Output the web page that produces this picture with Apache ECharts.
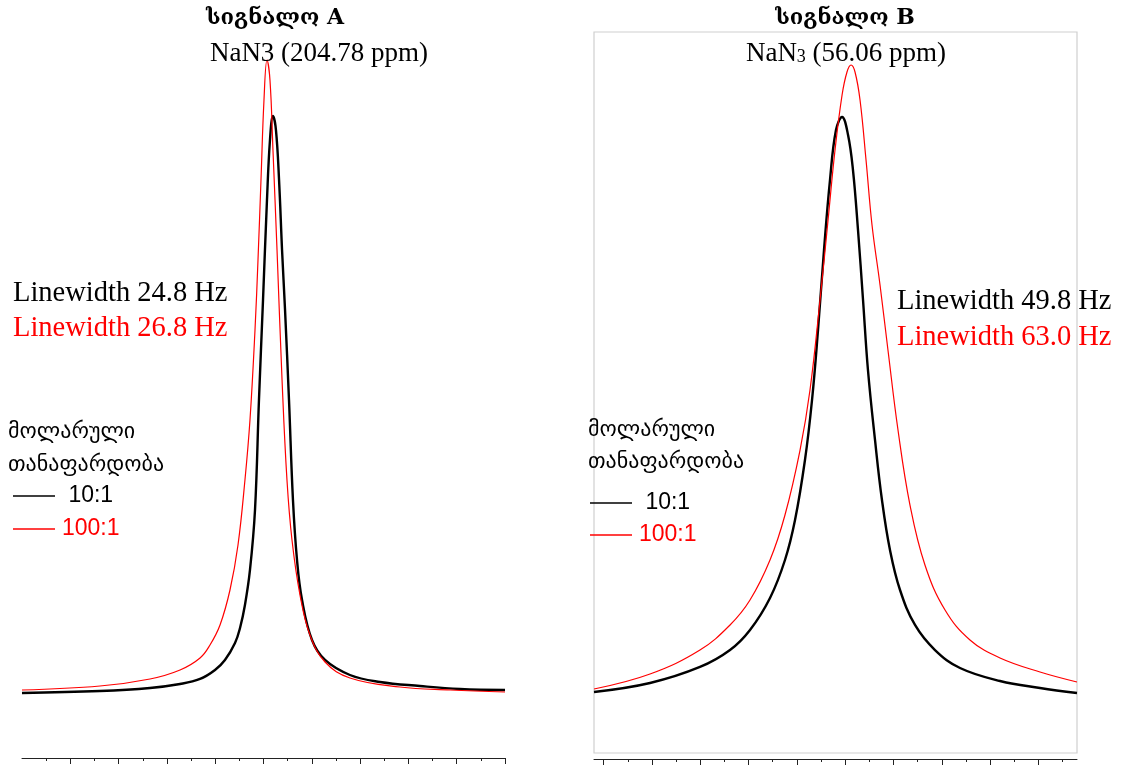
<!DOCTYPE html>
<html>
<head>
<meta charset="utf-8">
<script src="https://cdn.jsdelivr.net/npm/echarts@6/dist/echarts.min.js"></script>
<style>html,body{margin:0;padding:0;background:#fff}#c{width:1121px;height:766px}</style>
</head>
<body>
<div id="c"></div>
<script>
// ---- data (x: chemical shift in ppm, y: relative intensity) ----
const seriesNames = ['10:1', '100:1'];

const aBlackPpm = [230.00,221.93,216.75,213.64,211.57,210.02,208.99,207.95,207.43,206.92,206.40,205.88,205.47,205.05,204.64,204.33,204.02,203.71,203.39,203.08,202.77,202.36,201.95,201.53,201.01,199.98,198.63,196.05,192.94,188.80,184.66,180.00];
const aBlackVal = [0.00,0.35,0.87,1.56,2.43,3.99,5.72,8.67,11.27,15.25,21.32,31.72,50.78,68.11,85.44,95.84,100.0,97.57,88.91,76.78,66.38,50.78,33.45,23.05,16.12,9.19,5.72,3.12,1.91,1.21,0.69,0.52];

const aRedPpm = [230.00,221.93,216.75,213.64,211.57,210.54,209.50,208.47,207.64,206.92,206.40,205.88,205.57,205.26,204.95,204.64,204.33,204.02,203.60,203.08,202.57,202.05,201.22,200.19,198.63,196.05,190.87,185.69,180.00];
const aRedVal = [0.52,1.21,2.43,3.99,6.07,8.32,11.79,17.85,25.65,36.92,47.31,62.91,75.04,88.91,102.77,109.71,106.24,94.11,76.78,54.25,36.92,26.52,16.98,10.05,5.37,2.60,1.04,0.52,0.17];

const bBlackPpm = [81.00,75.20,70.03,66.92,64.85,62.78,61.23,60.19,59.16,58.43,57.81,57.19,56.57,55.95,55.32,54.70,54.19,53.67,53.15,52.64,51.91,51.19,50.36,49.32,47.77,45.70,43.11,38.97,34.83,31.00];
const bBlackVal = [0.17,1.73,4.51,7.45,10.92,16.46,23.05,29.98,40.38,50.78,62.91,76.78,88.91,97.57,99.83,96.71,90.64,80.24,68.11,55.98,43.85,33.45,24.78,17.85,11.79,7.45,4.33,2.08,0.87,0.00];

const bRedPpm = [81.00,75.20,70.03,66.92,64.85,62.78,61.23,59.67,58.64,57.60,56.77,56.05,55.32,54.81,54.39,53.98,53.46,52.84,52.22,51.39,50.57,49.53,48.29,46.74,44.66,42.08,38.97,34.83,31.00];
const bRedVal = [0.69,3.29,7.45,11.79,16.12,23.05,30.85,42.11,52.51,68.11,81.98,94.11,103.64,107.63,108.84,107.63,102.77,92.37,81.11,70.71,59.45,45.58,32.58,22.18,14.38,9.19,6.07,3.64,1.91];

// axis ranges and ticks (ppm)
const aRange = [180, 230];
const bRange = [31, 81];
const aMajorTicks = [180,185,190,195,200,205,210,215,220,225];
const aMinorTicks = [182.5,187.5,192.5,197.5,202.5,207.5,212.5,217.5,222.5,227.5];
const bMajorTicks = [35,40,45,50,55,60,65,70,75,80];
const bMinorTicks = [32.5,37.5,42.5,47.5,52.5,57.5,62.5,67.5,72.5,77.5];

// texts
const titleA = 'სიგნალო A';
const titleB = 'სიგნალო B';
const subA = 'NaN3 (204.78 ppm)';
const legendTitle = ['მოლარული', 'თანაფარდობა'];
const lwA = ['Linewidth 24.8 Hz', 'Linewidth 26.8 Hz'];
const lwB = ['Linewidth 49.8 Hz', 'Linewidth 63.0 Hz'];

// ---- build ----
const zip = (xs, ys) => xs.map((x, i) => [x, ys[i]]);
const BLACK = '#000000', RED = '#ff0000';
const SERIF = '"Liberation Serif","DejaVu Serif",serif';
const SANS = '"Liberation Sans","DejaVu Sans",sans-serif';

function xAxes(gridIndex, range, major, minor, offset) {
  const base = {
    type: 'value', gridIndex, min: range[0], max: range[1], inverse: true,
    position: 'bottom', offset,
    axisLabel: { show: false }, splitLine: { show: false }
  };
  return [
    Object.assign({}, base, {
      axisLine: { show: true, onZero: false, lineStyle: { color: '#222', width: 1 } },
      axisTick: { show: true, customValues: major, length: 6, lineStyle: { color: '#222', width: 1 } }
    }),
    Object.assign({}, base, {
      axisLine: { show: false, onZero: false },
      axisTick: { show: true, customValues: minor, length: 3, lineStyle: { color: '#222', width: 1 } }
    })
  ];
}

const yBase = { type: 'value', min: -10.4, max: 114.56, show: false };

function line(name, xi, yi, data, color, width) {
  return {
    name, type: 'line', xAxisIndex: xi, yAxisIndex: yi, data,
    showSymbol: false, symbol: 'none', smooth: 0.4,
    lineStyle: { color, width }, itemStyle: { color }, z: width > 2 ? 3 : 4,
    animation: false, clip: false
  };
}

function legendFor(left, top, gap) {
  return {
    orient: 'vertical', left, top, icon: 'rect', itemWidth: 42, itemHeight: 1.5,
    itemGap: gap, selectedMode: false, padding: 0,
    formatter: n => n === '10:1' ? ' ' + n : n,
    textStyle: { fontFamily: SANS, fontSize: 23, lineHeight: 26, padding: [0, 0, 0, 2] },
    data: [
      { name: '10:1', textStyle: { color: BLACK } },
      { name: '100:1', textStyle: { color: RED } }
    ]
  };
}

function txt(text, x, y, font, fill, align) {
  return { type: 'text', z: 10, style: { text, x, y, font, fill, textAlign: align || 'left', textVerticalAlign: 'middle' } };
}

const option = {
  backgroundColor: '#ffffff',
  animation: false,
  grid: [
    { left: 22, top: 32, width: 483, height: 721, show: false },
    { left: 594, top: 32, width: 483, height: 721, show: true, borderColor: '#cfcfcf', borderWidth: 1.2, backgroundColor: 'transparent' }
  ],
  xAxis: [
    ...xAxes(0, aRange, aMajorTicks, aMinorTicks, 5),
    ...xAxes(1, bRange, bMajorTicks, bMinorTicks, 6)
  ],
  yAxis: [
    Object.assign({ gridIndex: 0 }, yBase),
    Object.assign({ gridIndex: 1 }, yBase)
  ],
  legend: [legendFor(13, 483, 7), legendFor(590, 490, 6)],
  series: [
    line(seriesNames[1], 0, 0, zip(aRedPpm, aRedVal), RED, 1.2),
    line(seriesNames[0], 0, 0, zip(aBlackPpm, aBlackVal), BLACK, 2.4),
    line(seriesNames[1], 2, 1, zip(bRedPpm, bRedVal), RED, 1.2),
    line(seriesNames[0], 2, 1, zip(bBlackPpm, bBlackVal), BLACK, 2.4)
  ],
  graphic: [
    txt(titleA, 275, 18, 'bold 22px "DejaVu Serif","DejaVu Sans",serif', BLACK, 'center'),
    txt(titleB, 845, 18, 'bold 22px "DejaVu Serif","DejaVu Sans",serif', BLACK, 'center'),
    txt(subA, 319, 54, '27px ' + SERIF, BLACK, 'center'),
    {
      type: 'text', z: 10,
      style: {
        text: '{n|NaN}{s|3}{n| (56.06 ppm)}', x: 846, y: 54, textAlign: 'center', textVerticalAlign: 'middle',
        rich: {
          n: { fontFamily: SERIF, fontSize: 27, fill: BLACK, verticalAlign: 'bottom' },
          s: { fontFamily: SERIF, fontSize: 18, fill: BLACK, verticalAlign: 'bottom', padding: [0, 0, 1, 0] }
        }
      }
    },
    txt(lwA[0], 13, 294, '28.5px ' + SERIF, BLACK),
    txt(lwA[1], 13, 329, '28.5px ' + SERIF, RED),
    txt(lwB[0], 897, 302, '28.5px ' + SERIF, BLACK),
    txt(lwB[1], 897, 338, '28.5px ' + SERIF, RED),
    txt(legendTitle[0], 8, 432, '22px ' + SANS, BLACK),
    txt(legendTitle[1], 8, 465, '22px ' + SANS, BLACK),
    txt(legendTitle[0], 588, 430, '22px ' + SANS, BLACK),
    txt(legendTitle[1], 588, 462, '22px ' + SANS, BLACK)
  ]
};

const chart = echarts.init(document.getElementById('c'), null, { renderer: 'canvas' });
chart.setOption(option);
</script>
</body>
</html>
